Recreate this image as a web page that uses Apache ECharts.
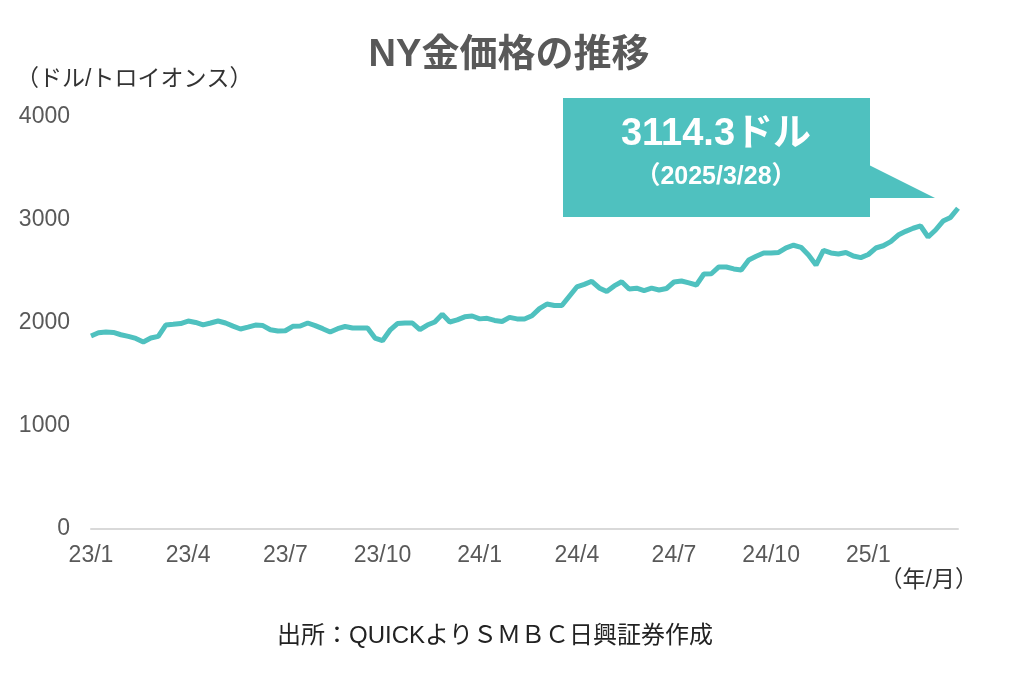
<!DOCTYPE html>
<html>
<head>
<meta charset="utf-8">
<script src="https://cdn.jsdelivr.net/npm/echarts@6/dist/echarts.min.js"></script>
<style>
  html, body { margin: 0; padding: 0; background: #fff; }
  #chart { width: 1018px; height: 694px; }
</style>
</head>
<body>
<div id="chart"></div>
<script>
// weekly closes (USD / troy ounce), first week = 2023/1/6, last = 2025/3/28
var firstWeek = '2023-01-06'
var goldPrice = [
  1874, 1905, 1913, 1908, 1886, 1870, 1850, 1816, 1854, 1870,
  1980, 1987, 1995, 2019, 2005, 1982, 2000, 2019, 2000, 1970,
  1942, 1960, 1980, 1975, 1935, 1922, 1925, 1968, 1971, 2000,
  1975, 1945, 1913, 1945, 1966, 1951, 1951, 1951, 1854, 1828,
  1930, 1995, 2000, 2000, 1935, 1980, 2010, 2085, 2010, 2030,
  2060, 2068, 2040, 2045, 2025, 2015, 2055, 2040, 2039, 2070,
  2140, 2184, 2170, 2170, 2260, 2350, 2375, 2405, 2340, 2305,
  2360, 2400, 2330, 2338, 2315, 2338, 2320, 2335, 2398, 2408,
  2390, 2369, 2476, 2478, 2544, 2544, 2525, 2515, 2612, 2648,
  2680, 2680, 2685, 2730, 2755, 2735, 2660, 2563, 2705, 2680,
  2670, 2685, 2650, 2635, 2665, 2728, 2750, 2790, 2854, 2890,
  2920, 2942, 2835, 2903, 2990, 3025, 3114.3
]
var labelMonths = [1, 4, 7, 10]
var lastValue = '3114.3ドル'
var lastDate = '（2025/3/28）'

// week dates as categories
var weeks = []
var t0 = Date.parse(firstWeek + 'T00:00:00Z')
for (var i = 0; i < goldPrice.length; i++) {
  weeks.push(new Date(t0 + i * 7 * 86400000).toISOString().slice(0, 10))
}

function isQuarterStart (d) {
  var m = +d.slice(5, 7)
  var day = +d.slice(8, 10)
  return day <= 7 && labelMonths.indexOf(m) >= 0
}

var font = '"Liberation Sans", "Noto Sans CJK JP", sans-serif'
var teal = '#4fc1bf'

var chart = echarts.init(document.getElementById('chart'))
chart.setOption({
  animation: false,
  textStyle: { fontFamily: font },
  title: {
    text: 'NY金価格の推移',
    left: 'center',
    top: 32,
    textStyle: { fontSize: 38, fontWeight: 'bold', color: '#595959', fontFamily: font }
  },
  grid: { left: 91, right: 60, top: 117, bottom: 165 },
  xAxis: {
    type: 'category',
    data: weeks,
    boundaryGap: false,
    axisLine: { lineStyle: { color: '#d9d9d9', width: 2 } },
    axisTick: { show: false },
    axisLabel: {
      interval: function (idx, val) { return isQuarterStart(val) },
      formatter: function (val) { return val.slice(2, 4) + '/' + (+val.slice(5, 7)) },
      color: '#595959',
      fontSize: 23,
      margin: 15
    },
    splitLine: { show: false }
  },
  yAxis: {
    type: 'value',
    min: 0,
    max: 4000,
    interval: 1000,
    axisLine: { show: false },
    axisTick: { show: false },
    splitLine: { show: false },
    axisLabel: {
      color: '#595959',
      fontSize: 23,
      margin: 21,
      formatter: function (v) { return String(v) }
    }
  },
  series: [{
    type: 'line',
    data: goldPrice,
    showSymbol: false,
    lineStyle: { color: teal, width: 5 },
    itemStyle: { color: teal }
  }],
  graphic: [
    { type: 'text', left: 16, top: 68, style: { text: '（ドル/トロイオンス）', fontSize: 23, fill: '#333', fontFamily: font } },
    { type: 'text', right: 40, top: 569, style: { text: '（年/月）', fontSize: 23, fill: '#333', fontFamily: font } },
    { type: 'text', left: 277, top: 624, style: { text: '出所：QUICKよりＳＭＢＣ日興証券作成', fontSize: 24, fill: '#222', fontFamily: font } },
    { type: 'rect', shape: { x: 563, y: 98, width: 307, height: 119 }, style: { fill: teal } },
    { type: 'polygon', shape: { points: [[869, 165], [935, 198], [869, 198]] }, style: { fill: teal } },
    { type: 'text', x: 716, y: 135, style: { text: lastValue, fontSize: 38, fontWeight: 'bold', fill: '#fff', align: 'center', verticalAlign: 'middle', fontFamily: font } },
    { type: 'text', x: 716, y: 177, style: { text: lastDate, fontSize: 25, fontWeight: 'bold', fill: '#fff', align: 'center', verticalAlign: 'middle', fontFamily: font } }
  ]
})
</script>
</body>
</html>
